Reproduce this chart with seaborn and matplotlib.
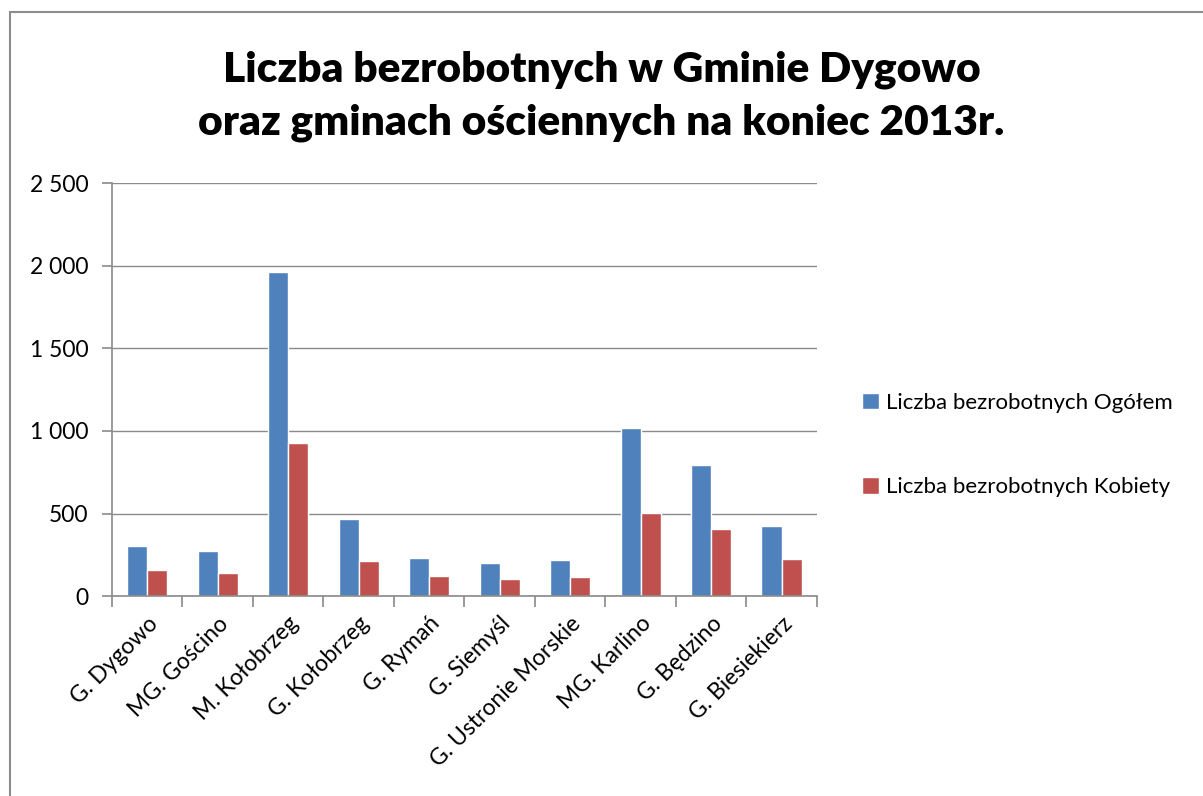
import numpy as np
import pandas as pd
import matplotlib.pyplot as plt
import seaborn as sns
from matplotlib.patches import Rectangle
from matplotlib.ticker import FuncFormatter

gminy = ['G. Dygowo', 'MG. Gościno', 'M. Kołobrzeg', 'G. Kołobrzeg', 'G. Rymań',
         'G. Siemyśl', 'G. Ustronie Morskie', 'MG. Karlino', 'G. Będzino', 'G. Biesiekierz']
ogolem = [303, 273, 1960, 467, 232, 198, 218, 1018, 796, 422]
kobiety = [160, 141, 927, 212, 121, 105, 119, 505, 408, 226]
serie = ['Liczba bezrobotnych Ogółem', 'Liczba bezrobotnych Kobiety']

df = pd.DataFrame({'gmina': gminy * 2,
                   'seria': [serie[0]] * len(gminy) + [serie[1]] * len(gminy),
                   'liczba': ogolem + kobiety})

sns.set_style('white')
plt.rcParams['font.family'] = ['Lato', 'DejaVu Sans']
plt.rcParams['text.color'] = 'black'
plt.rcParams['xtick.color'] = 'black'
plt.rcParams['ytick.color'] = 'black'

fig = plt.figure(figsize=(12.03, 7.96), dpi=100)
ax = fig.add_axes([0.093, 0.251, 0.586, 0.519])
fig.patches.append(Rectangle((10 / 1203, -0.1), 1.2, (796 - 12) / 796 + 0.1,
                             transform=fig.transFigure, fill=False,
                             edgecolor='#8c8c8c', linewidth=1.5))

sns.barplot(data=df, x='gmina', y='liczba', hue='seria',
            palette=['#4F81BD', '#C0504D'], width=0.57, ax=ax, saturation=1)

ax.set_ylim(0, 2500)
ax.set_xlim(-0.5, len(gminy) - 0.5)
ax.set_yticks(np.arange(0, 2501, 500))
ax.yaxis.set_major_formatter(FuncFormatter(lambda v, p: f'{int(v):,}'.replace(',', ' ')))
ax.grid(axis='y', color='#8a8a8a', linewidth=1)
ax.set_axisbelow(True)
ax.set_xlabel('')
ax.set_ylabel('')
for s in ['top', 'right']:
    ax.spines[s].set_visible(False)
for s in ['left', 'bottom']:
    ax.spines[s].set_color('#8a8a8a')
    ax.spines[s].set_linewidth(1.2)

ax.set_xticks(np.arange(len(gminy)))
ax.set_xticklabels(gminy, rotation=45, ha='right', rotation_mode='anchor', fontsize=16.5)
ax.tick_params(axis='x', length=0, pad=12)
ax.set_xticks(np.arange(-0.5, len(gminy)), minor=True)
ax.tick_params(axis='x', which='minor', length=8, color='#8a8a8a', width=1.2, bottom=True)
ax.tick_params(axis='y', labelsize=16.5, length=7, color='#8a8a8a', width=1.2, left=True,
               pad=10, labelcolor='black')

h, l = ax.get_legend_handles_labels()
ax.legend(h, l, loc='center left', bbox_to_anchor=(1.064, 0.366), frameon=False,
          borderaxespad=0, borderpad=0,
          fontsize=16, labelspacing=2.9, handlelength=0.75, handleheight=0.75, handletextpad=0.35,
          labelcolor='black')

fig.text(0.5, 0.879, 'Liczba bezrobotnych w Gminie Dygowo\noraz gminach ościennych na koniec 2013r.',
         ha='center', va='center', fontsize=30.5, fontweight='heavy', linespacing=1.45, color='black')

fig.savefig('out.png', dpi=100)
